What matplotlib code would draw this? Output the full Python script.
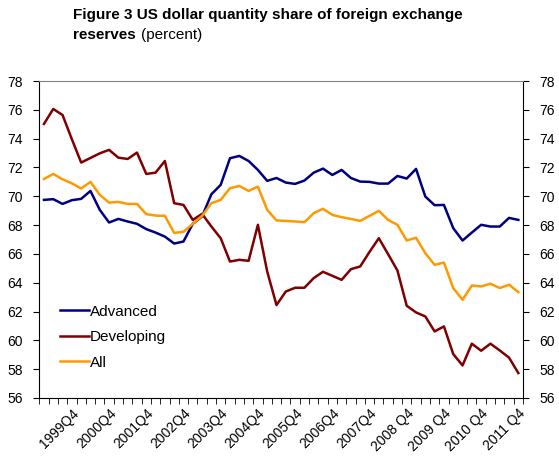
import numpy as np
import matplotlib.pyplot as plt

# quarterly, 1999Q1 .. 2011Q4
quarters = [f"{y}Q{q}" for y in range(1999, 2012) for q in range(1, 5)]
tick_labels = ["1999Q4", "2000Q4", "2001Q4", "2002Q4", "2003Q4", "2004Q4", "2005Q4",
               "2006Q4", "2007Q4", "2008 Q4", "2009 Q4", "2010 Q4", "2011 Q4"]

advanced = [69.75, 69.8, 69.47, 69.73, 69.82, 70.37, 69.06, 68.18, 68.43, 68.25,
            68.09, 67.72, 67.48, 67.2, 66.72, 66.86, 68.09, 68.6, 70.14, 70.79,
            72.64, 72.8, 72.45, 71.83, 71.07, 71.27, 70.95, 70.86, 71.09, 71.64,
            71.92, 71.48, 71.83, 71.27, 71.02, 71.0, 70.88, 70.88, 71.41, 71.23,
            71.9, 69.98, 69.38, 69.4, 67.79, 66.93, 67.48, 68.02, 67.9, 67.9,
            68.5, 68.36]
developing = [75.02, 76.06, 75.64, 73.96, 72.34, 72.66, 72.98, 73.22, 72.68, 72.59,
              73.03, 71.55, 71.64, 72.45, 69.52, 69.4, 68.36, 68.78, 67.9, 67.09,
              65.47, 65.59, 65.52, 68.02, 64.78, 62.45, 63.39, 63.65, 63.65, 64.32,
              64.76, 64.48, 64.2, 64.94, 65.13, 66.14, 67.09, 65.98, 64.85, 62.4,
              61.94, 61.66, 60.62, 60.97, 59.05, 58.26, 59.77, 59.28, 59.77, 59.3,
              58.8, 57.73]
all_ = [71.2, 71.55, 71.18, 70.9, 70.54, 71.0, 70.1, 69.56, 69.61, 69.47,
        69.47, 68.76, 68.66, 68.64, 67.46, 67.53, 68.09, 68.64, 69.52, 69.75,
        70.56, 70.72, 70.37, 70.67, 69.06, 68.32, 68.29, 68.25, 68.2, 68.83,
        69.13, 68.71, 68.55, 68.43, 68.29, 68.64, 68.99, 68.36, 68.02, 66.93,
        67.12, 66.05, 65.24, 65.4, 63.63, 62.82, 63.81, 63.74, 63.93, 63.63,
        63.86, 63.35]

plt.rcParams['font.family'] = ['Liberation Sans', 'DejaVu Sans']

fig = plt.figure(figsize=(5.59, 4.71), dpi=100)
ax = fig.add_axes([0.0703, 0.155, 0.8653, 0.673])

x = np.arange(len(quarters))
ax.plot(x, advanced, color='#000080', lw=1.8, label='Advanced')
ax.plot(x, developing, color='#800000', lw=1.8, label='Developing')
ax.plot(x, all_, color='#FF9900', lw=1.8, label='All')

ax.set_xlim(-0.5, len(quarters) - 0.5)
ax.set_ylim(56, 78)
ax.set_yticks(np.arange(56, 79, 2))
ax.tick_params(axis='y', which='both', direction='out', length=4, labelsize=10,
               right=True, labelright=True, left=True, labelleft=True, pad=8)

# labels on every 4th quarter, tick marks on category borders
ax.set_xticks(x[3::4])
ax.set_xticklabels(tick_labels, rotation=45, ha='right', rotation_mode='anchor', fontsize=10)
ax.set_xticks(np.arange(-0.5, len(quarters), 1), minor=True)
ax.tick_params(axis='x', which='major', length=0, pad=6)
ax.tick_params(axis='x', which='minor', direction='out', length=4)

ax.spines['top'].set_color('#808080')

ax.legend(loc='lower left', bbox_to_anchor=(0.03, 0.07), frameon=False, fontsize=11,
          handlelength=1.9, handletextpad=0.05, labelspacing=0.75, borderaxespad=0)

fig.text(0.13, 0.982, "Figure 3 US dollar quantity share of foreign exchange",
         fontsize=11, fontweight='bold', va='top')
t2 = fig.text(0.13, 0.94, "reserves", fontsize=11, fontweight='bold', va='top')
ax.annotate("(percent)", xy=(1, 0), xycoords=t2, xytext=(4, 0), textcoords='offset points',
            fontsize=11, va='bottom', ha='left', annotation_clip=False)

fig.savefig('out.png', dpi=100)
